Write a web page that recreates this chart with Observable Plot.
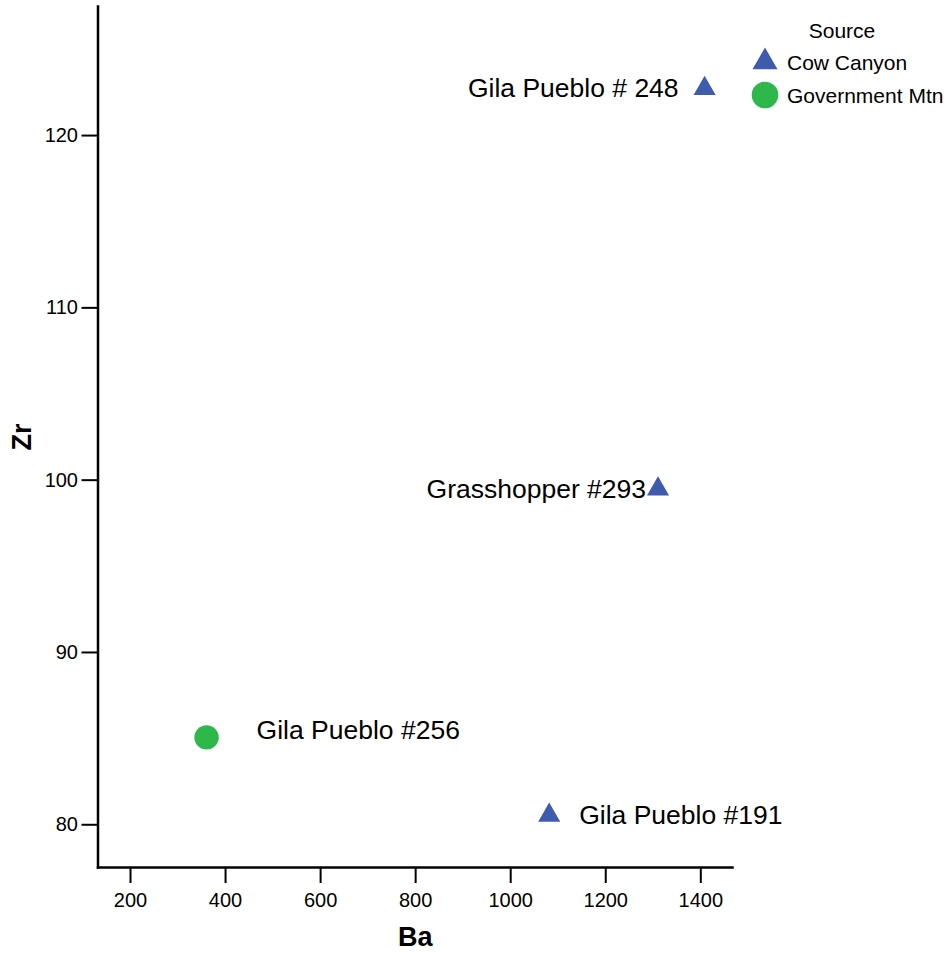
<!DOCTYPE html>
<html>
<head>
<meta charset="utf-8">
<script src="https://cdn.jsdelivr.net/npm/d3@7"></script>
<script src="https://cdn.jsdelivr.net/npm/@observablehq/plot@0.6"></script>
<style>
  body { margin: 0; background: #fff; font-family: "Liberation Sans", Arial, sans-serif; }
  #wrap { position: relative; width: 952px; height: 953px; }
  #legend { position: absolute; left: 0; top: 0; }
  g[aria-label="x-axis label"] text, g[aria-label="y-axis label"] text { font-size: 27px; font-weight: bold; }
</style>
</head>
<body>
<div id="wrap"></div>
<script>
// ---- data ----
const sampleLabels = ["Gila Pueblo # 248", "Grasshopper #293", "Gila Pueblo #256", "Gila Pueblo #191"];
const sampleSources = ["Cow Canyon", "Cow Canyon", "Government Mtn", "Cow Canyon"];
const baValues = [1408, 1310, 360, 1081];
const zrValues = [122.73, 99.48, 85.07, 80.55];
const xTicks = [200, 400, 600, 800, 1000, 1200, 1400];
const yTicks = [80, 90, 100, 110, 120];
const sourceNames = ["Cow Canyon", "Government Mtn"];

// ---- styles ----
const sourceColors = ["#3F5BAE", "#2EB84C"];
const sourceSymbols = ["triangle", "circle"];
const sourceRadius = [8.2, 12.2];
const legendRadius = [9.3, 13.3];
const labelPlacement = [
  {dx: -26, dy: 0, anchor: "end"},
  {dx: -12, dy: 0, anchor: "end"},
  {dx: 50, dy: -7, anchor: "start"},
  {dx: 30, dy: 0, anchor: "start"}
];

const data = sampleLabels.map((label, i) => ({label, source: sampleSources[i], ba: baValues[i], zr: zrValues[i], i}));

const marks = [
  Plot.frame({anchor: "bottom", strokeWidth: 2.5}),
  Plot.frame({anchor: "left", strokeWidth: 2.5}),
  Plot.axisX({ticks: xTicks, tickFormat: d3.format("d"), tickSize: 16, tickPadding: 9, strokeWidth: 2, fontSize: 20, label: null}),
  Plot.axisX({ticks: [], label: "Ba", labelAnchor: "center", labelArrow: "none", labelOffset: 78, tickSize: 0}),
  Plot.axisY({ticks: yTicks, tickFormat: d3.format("d"), tickSize: 16, tickPadding: 4, strokeWidth: 2, fontSize: 20, label: null}),
  Plot.axisY({ticks: [], label: "Zr", labelAnchor: "center", labelArrow: "none", labelOffset: 86, tickSize: 0})
];
sourceNames.forEach((s, k) => {
  marks.push(Plot.dot(data.filter(d => d.source === s), {
    x: "ba", y: "zr", symbol: () => sourceSymbols[k], fill: sourceColors[k], r: sourceRadius[k], stroke: "none"
  }));
});
labelPlacement.forEach((p, i) => {
  marks.push(Plot.text(data.filter(d => d.i === i), {
    x: "ba", y: "zr", text: "label", dx: p.dx, dy: p.dy, textAnchor: p.anchor, fontSize: 26.5, fill: "#000"
  }));
});

const chart = Plot.plot({
  width: 952,
  height: 953,
  marginLeft: 97.5,
  marginRight: 220,
  marginTop: 6,
  marginBottom: 86,
  style: {fontFamily: '"Liberation Sans", Arial, sans-serif', color: "#000", background: "#fff"},
  x: {domain: [131.6, 1466.7]},
  y: {domain: [77.52, 127.49]},
  symbol: {type: "identity"},
  marks
});
document.getElementById("wrap").appendChild(chart);

// ---- legend ----
const lg = d3.select("#wrap").append("svg").attr("id", "legend").attr("width", 952).attr("height", 130)
  .style("font-family", '"Liberation Sans", Arial, sans-serif');
lg.append("text").attr("x", 842).attr("y", 30).attr("text-anchor", "middle").attr("dominant-baseline", "central")
  .attr("font-size", 21).text("Source");
const symTypes = {triangle: d3.symbolTriangle, circle: d3.symbolCircle};
sourceNames.forEach((s, k) => {
  const y = 62 + k * 33;
  lg.append("path").attr("transform", `translate(765,${y})`)
    .attr("d", d3.symbol(symTypes[sourceSymbols[k]], Math.PI * legendRadius[k] ** 2)())
    .attr("fill", sourceColors[k]);
  lg.append("text").attr("x", 787).attr("y", y).attr("dominant-baseline", "central").attr("font-size", 21).text(s);
});
</script>
</body>
</html>
